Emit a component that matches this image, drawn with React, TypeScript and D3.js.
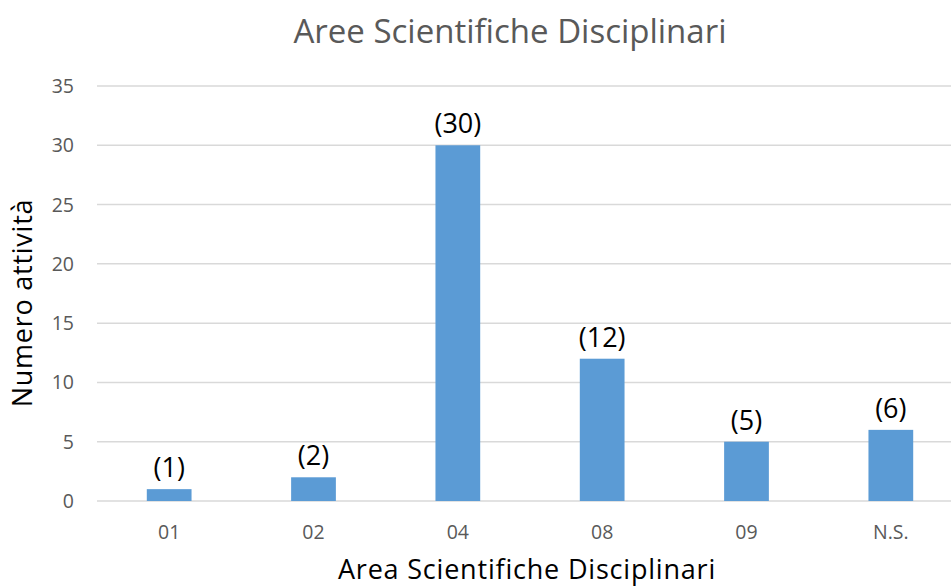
import React from "react";
import * as d3 from "d3";

const categories = ["01", "02", "04", "08", "09", "N.S."];
const values = [1, 2, 30, 12, 5, 6];
const yTicks = [0, 5, 10, 15, 20, 25, 30, 35];

const W = 951;
const H = 586;
const FONT = "'Open Sans', sans-serif";

export default function App() {
  const x = d3.scaleBand<string>().domain(categories).range([97, 963]).paddingInner(0.69).paddingOuter(0.345);
  const y = d3.scaleLinear().domain([0, 35]).range([501, 86]);

  return (
    <div style={{ position: "absolute", left: 0, top: 0 }}>
      <svg width={W} height={H} style={{ display: "block", background: "#fff", fontFamily: FONT }}>
        <text x={510} y={43} textAnchor="middle" fontSize={33} fill="#595959">
          Aree Scientifiche Disciplinari
        </text>

        {/* grid + y ticks */}
        {yTicks.map((t) => (
          <g key={t}>
            <line x1={97} x2={963} y1={y(t)} y2={y(t)} stroke="#d9d9d9" strokeWidth={1.5} />
            <text x={74} y={y(t)} dy="0.36em" textAnchor="end" fontSize={19.5} fill="#595959">
              {t}
            </text>
          </g>
        ))}

        {/* bars */}
        {categories.map((c, i) => (
          <rect key={c} x={x(c)} y={y(values[i])} width={x.bandwidth()} height={y(0) - y(values[i])} fill="#5b9bd5" />
        ))}

        {/* value labels */}
        {categories.map((c, i) => (
          <text key={c} x={(x(c) ?? 0) + x.bandwidth() / 2} y={y(values[i]) - 12} textAnchor="middle" fontSize={27} fill="#000">
            ({values[i]})
          </text>
        ))}

        {/* x tick labels */}
        {categories.map((c) => (
          <text key={c} x={(x(c) ?? 0) + x.bandwidth() / 2} y={532} dy="0.36em" textAnchor="middle" fontSize={19.5} fill="#595959">
            {c}
          </text>
        ))}

        <text x={527} y={579} textAnchor="middle" fontSize={27} letterSpacing={0.8} fill="#000">
          Area Scientifiche Disciplinari
        </text>
        <text transform={`translate(32,303) rotate(-90)`} textAnchor="middle" fontSize={27} letterSpacing={0.75} fill="#000">
          Numero attività
        </text>
      </svg>
    </div>
  );
}
